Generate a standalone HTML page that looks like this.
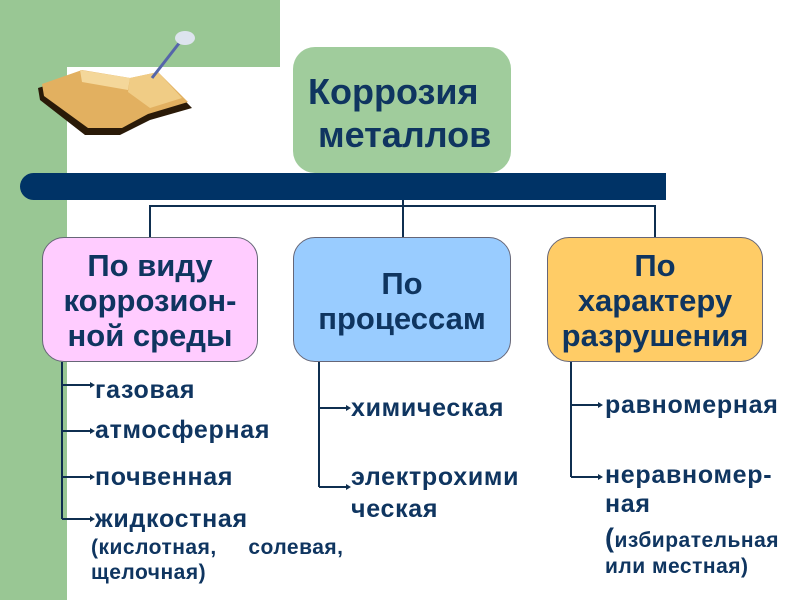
<!DOCTYPE html>
<html><head><meta charset="utf-8"><style>
body{margin:0;width:800px;height:600px;position:relative;background:#fff;overflow:hidden;font-family:"Liberation Sans","DejaVu Sans",sans-serif;font-weight:bold;color:#0f3560}
.a{position:absolute}
.box{position:absolute;border-radius:22px;border:1px solid #667;box-sizing:border-box;text-align:center;font-size:31px;line-height:35px;white-space:nowrap}
.t{position:absolute;font-size:25px;line-height:28px;white-space:nowrap;letter-spacing:0.7px}
.s{font-size:21px;letter-spacing:0.5px}
</style></head><body>
<div class="a" style="left:0;top:0;width:67px;height:600px;background:#99c794"></div>
<div class="a" style="left:0;top:0;width:280px;height:67px;background:#99c794"></div>
<svg class="a" style="left:30px;top:20px" width="170" height="120">
<polygon points="8,68 50,55 100,62 130,55 162,88 120,100 90,115 55,115 10,80" fill="#2a1a08"/>
<polygon points="12,64 52,50 100,58 128,52 158,82 118,94 92,108 58,108 14,76" fill="#e2b060"/>
<polygon points="50,50 100,58 98,70 52,62" fill="#f4d79a"/>
<polygon points="100,58 128,52 152,78 120,88 98,72" fill="#f0cc85"/>
<line x1="122" y1="58" x2="150" y2="22" stroke="#5566aa" stroke-width="3"/>
<ellipse cx="155" cy="18" rx="10" ry="7" fill="#dde4ee"/>
</svg>
<div class="a" style="left:20px;top:173px;width:646px;height:27px;background:#003366;border-radius:14px 0 0 14px"></div>
<div class="box" style="left:293px;top:47px;width:218px;height:126px;background:#a0cc9c;font-size:36px;line-height:43px;padding-top:23px;border:none;text-align:left;padding-left:15px">Коррозия<br>&nbsp;металлов</div>
<svg class="a" style="left:0;top:0" width="800" height="600">
<g stroke="#0f2f50" stroke-width="2" fill="none">
<path d="M150,237V206H655V237M403,200V237"/>
<path d="M62,362V519M62,385H92M62,431H92M62,477H92M62,519H92"/>
<path d="M319,362V487M319,408H348M319,487H348"/>
<path d="M571,362V477M571,405H600M571,477H600"/>
</g>
<g fill="#0f2f50">
<path d="M95,385l-5,-3v6zM95,431l-5,-3v6zM95,477l-5,-3v6zM95,519l-5,-3v6zM351,408l-5,-3v6zM351,487l-5,-3v6zM603,405l-5,-3v6zM603,477l-5,-3v6z"/>
</g>
</svg>
<div class="box" style="left:42px;top:237px;width:216px;height:125px;background:#ffccff;padding-top:10px">По виду<br>коррозион-<br>ной среды</div>
<div class="box" style="left:293px;top:237px;width:218px;height:125px;background:#99ccff;padding-top:28px">По<br>процессам</div>
<div class="box" style="left:547px;top:237px;width:216px;height:125px;background:#ffcc66;padding-top:10px">По<br>характеру<br>разрушения</div>
<div class="t" style="left:95px;top:376px">газовая</div>
<div class="t" style="left:95px;top:416px">атмосферная</div>
<div class="t" style="left:95px;top:463px">почвенная</div>
<div class="t" style="left:95px;top:505px">жидкостная</div>
<div class="t s" style="left:91px;top:534px">(кислотная,&nbsp;&nbsp;&nbsp;&nbsp;&nbsp;солевая,</div>
<div class="t s" style="left:91px;top:559px">щелочная)</div>
<div class="t" style="left:351px;top:394px">химическая</div>
<div class="t" style="left:351px;top:463px">электрохими</div>
<div class="t" style="left:351px;top:495px">ческая</div>
<div class="t" style="left:605px;top:391px">равномерная</div>
<div class="t" style="left:605px;top:461px">неравномер-</div>
<div class="t" style="left:605px;top:490px">ная</div>
<div class="t s" style="left:605px;top:524px"><span style="font-size:27px">(</span>избирательная</div>
<div class="t s" style="left:605px;top:553px">или местная)</div>
</body></html>
